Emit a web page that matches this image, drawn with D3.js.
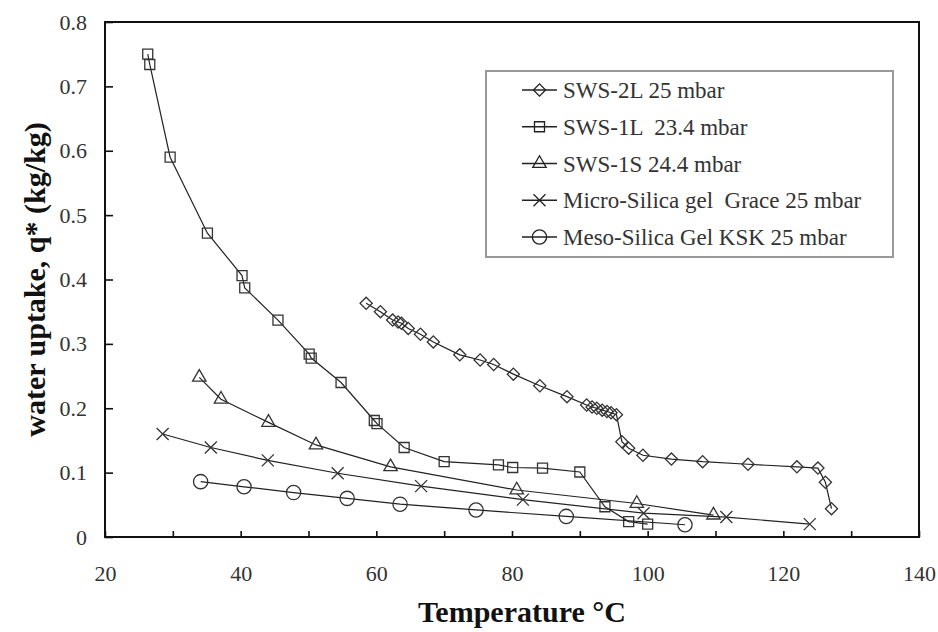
<!DOCTYPE html>
<html>
<head>
<meta charset="utf-8">
<script src="https://cdn.jsdelivr.net/npm/d3@7"></script>
<style>
  body { margin: 0; background: #fff; }
  svg text { font-family: "Liberation Serif", "Times New Roman", serif; }
</style>
</head>
<body>
<div id="graphic"></div>
<script>
// water uptake vs temperature, five sorbents

var sws2lTemp = [58.5, 60.6, 62.4, 63.2, 63.7, 64.7, 66.5, 68.4, 72.3, 75.3, 77.3, 80.2, 84.1, 88.1, 91.0, 91.8, 92.5, 93.3, 94.0, 94.6, 95.4, 96.2, 97.2, 99.3, 103.5, 108.1, 114.8, 122.0, 125.1, 126.2, 127.1];
var sws2lQ    = [0.363, 0.350, 0.337, 0.334, 0.332, 0.324, 0.315, 0.303, 0.283, 0.275, 0.268, 0.253, 0.235, 0.218, 0.205, 0.202, 0.200, 0.197, 0.195, 0.193, 0.190, 0.148, 0.138, 0.127, 0.121, 0.117, 0.113, 0.109, 0.107, 0.085, 0.044];

var sws1lTemp = [26.3, 26.6, 29.6, 35.1, 40.2, 40.6, 45.5, 50.1, 50.4, 54.8, 59.7, 60.1, 64.1, 70.0, 78.0, 80.1, 84.5, 90.0, 93.7, 97.2, 100.0];
var sws1lQ    = [0.750, 0.734, 0.590, 0.472, 0.406, 0.387, 0.337, 0.284, 0.278, 0.240, 0.181, 0.176, 0.139, 0.117, 0.112, 0.108, 0.107, 0.101, 0.047, 0.024, 0.020];

var sws1sTemp = [33.9, 37.1, 44.1, 51.1, 62.1, 80.7, 98.4, 109.7];
var sws1sQ    = [0.248, 0.214, 0.178, 0.143, 0.109, 0.073, 0.052, 0.034];

var microTemp = [28.5, 35.6, 44.0, 54.3, 66.6, 81.6, 99.4, 111.6, 123.9];
var microQ    = [0.160, 0.139, 0.119, 0.099, 0.079, 0.058, 0.037, 0.031, 0.020];

var mesoTemp = [34.1, 40.5, 47.8, 55.7, 63.5, 74.7, 88.0, 105.5];
var mesoQ    = [0.086, 0.078, 0.069, 0.060, 0.051, 0.042, 0.032, 0.019];

var seriesNames = ["SWS-2L 25 mbar", "SWS-1L  23.4 mbar", "SWS-1S 24.4 mbar", "Micro-Silica gel  Grace 25 mbar", "Meso-Silica Gel KSK 25 mbar"];
var seriesMarks = ["diamond", "square", "triangle", "cross", "circle"];

var xTicks = d3.range(20, 141, 10);
var yTicks = d3.range(0, 0.81, 0.1);

var series = [
  { name: seriesNames[0], mark: seriesMarks[0], t: sws2lTemp, q: sws2lQ },
  { name: seriesNames[1], mark: seriesMarks[1], t: sws1lTemp, q: sws1lQ },
  { name: seriesNames[2], mark: seriesMarks[2], t: sws1sTemp, q: sws1sQ },
  { name: seriesNames[3], mark: seriesMarks[3], t: microTemp, q: microQ },
  { name: seriesNames[4], mark: seriesMarks[4], t: mesoTemp, q: mesoQ }
];

var W = 938, H = 632;
var plotL = 105, plotR = 919, plotT = 22, plotB = 537;

var svg = d3.select("#graphic").append("svg")
    .attr("width", W)
    .attr("height", H);

var x = d3.scaleLinear().domain([20, 140]).range([plotL, plotR]);
var y = d3.scaleLinear().domain([0, 0.8]).range([plotB, plotT]);

// frame
svg.append("rect")
    .attr("x", plotL).attr("y", plotT)
    .attr("width", plotR - plotL).attr("height", plotB - plotT)
    .attr("fill", "none").attr("stroke", "#111").attr("stroke-width", 2);

// axes with inward ticks
var xAxis = svg.append("g")
    .attr("transform", "translate(0," + plotB + ")")
    .call(d3.axisBottom(x).tickValues(xTicks).tickSize(-6).tickPadding(28)
      .tickFormat(function(d) { return d % 20 === 0 ? d : ""; }));
var yAxis = svg.append("g")
    .attr("transform", "translate(" + plotL + ",0)")
    .call(d3.axisLeft(y).tickValues(yTicks).tickSize(-8).tickPadding(18)
      .tickFormat(function(d) { return d < 0.001 ? "0" : d3.format(".1f")(d); }));

[xAxis, yAxis].forEach(function(g) {
  g.select(".domain").remove();
  g.selectAll(".tick line").attr("stroke", "#111").attr("stroke-width", 1.6);
  g.selectAll(".tick text")
    .attr("font-size", 22)
    .attr("fill", "#333")
    .style("font-family", "'Liberation Serif', serif");
});

// axis titles
svg.append("text")
    .attr("x", 522).attr("y", 622)
    .attr("text-anchor", "middle")
    .attr("font-size", 30).attr("font-weight", "bold").attr("fill", "#111")
    .text("Temperature °C");

svg.append("text")
    .attr("transform", "translate(45," + ((plotT + plotB) / 2) + ") rotate(-90)")
    .attr("text-anchor", "middle")
    .attr("font-size", 30).attr("font-weight", "bold").attr("fill", "#111")
    .text("water uptake, q* (kg/kg)");

// marker shapes
function markPath(kind) {
  if (kind === "diamond") return d3.symbol().type(d3.symbolSquare).size(74)();
  if (kind === "square") return d3.symbol().type(d3.symbolSquare).size(100)();
  if (kind === "triangle") return d3.symbol().type(d3.symbolTriangle).size(78)();
  if (kind === "circle") return d3.symbol().type(d3.symbolCircle).size(160)();
  var s = 6;
  return "M" + (-s) + "," + (-s) + "L" + s + "," + s + "M" + (-s) + "," + s + "L" + s + "," + (-s);
}
function markRotate(kind) { return kind === "diamond" ? " rotate(45)" : ""; }

var line = d3.line()
    .x(function(d) { return x(d[0]); })
    .y(function(d) { return y(d[1]); });

series.forEach(function(s) {
  var pts = d3.zip(s.t, s.q);
  var g = svg.append("g");
  g.append("path")
      .datum(pts)
      .attr("d", line)
      .attr("fill", "none")
      .attr("stroke", "#222")
      .attr("stroke-width", 1.2);
  g.selectAll("path.mk")
      .data(pts)
      .enter().append("path")
      .attr("class", "mk")
      .attr("transform", function(d) { return "translate(" + x(d[0]) + "," + y(d[1]) + ")" + markRotate(s.mark); })
      .attr("d", markPath(s.mark))
      .attr("fill", "none")
      .attr("stroke", "#333")
      .attr("stroke-width", 1.3);
});

// legend
var lg = svg.append("g");
lg.append("rect")
    .attr("x", 486).attr("y", 71)
    .attr("width", 407).attr("height", 186)
    .attr("fill", "#fff").attr("stroke", "#999").attr("stroke-width", 2);

var rowY = d3.scaleLinear().domain([0, 4]).range([90, 237]);
series.forEach(function(s, i) {
  var yy = rowY(i);
  lg.append("line")
      .attr("x1", 522).attr("x2", 557)
      .attr("y1", yy).attr("y2", yy)
      .attr("stroke", "#222").attr("stroke-width", 1.3);
  lg.append("path")
      .attr("transform", "translate(539.5," + yy + ")" + markRotate(s.mark))
      .attr("d", markPath(s.mark))
      .attr("fill", "none").attr("stroke", "#222").attr("stroke-width", 1.3);
  lg.append("text")
      .attr("x", 563).attr("y", yy + 8)
      .attr("font-size", 23).attr("fill", "#333")
      .style("white-space", "pre")
      .text(s.name);
});
</script>
</body>
</html>
